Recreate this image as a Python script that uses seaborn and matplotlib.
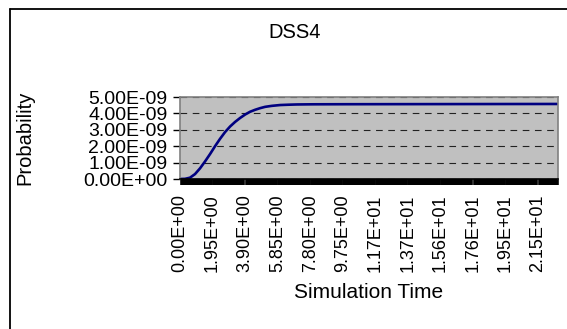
import matplotlib
matplotlib.use("Agg")
import matplotlib.pyplot as plt
from matplotlib.lines import Line2D
from matplotlib.ticker import MultipleLocator
import seaborn as sns
import pandas as pd

# ---- data ----
title = "DSS4"
x_label = "Simulation Time"
y_label = "Probability"

sim_time = [0.0, 0.3, 0.6, 0.9, 1.2, 1.5, 1.8, 2.1, 2.4, 2.7, 3.0, 3.3, 3.6, 3.9,
            4.2, 4.5, 4.8, 5.1, 5.5, 6.0, 6.5, 7.0, 8.0, 10.0, 14.0, 18.0, 22.6]
probability = [0.0, 0.01e-9, 0.08e-9, 0.30e-9, 0.65e-9, 1.07e-9, 1.52e-9, 2.00e-9,
               2.45e-9, 2.86e-9, 3.20e-9, 3.48e-9, 3.72e-9, 3.93e-9, 4.10e-9,
               4.22e-9, 4.32e-9, 4.40e-9, 4.46e-9, 4.51e-9, 4.53e-9, 4.545e-9,
               4.555e-9, 4.56e-9, 4.565e-9, 4.57e-9, 4.575e-9]

x_tick_values = [0.0, 1.95, 3.90, 5.85, 7.80, 9.75, 11.70, 13.65, 15.60, 17.55, 19.50, 21.45]
x_tick_labels = ["0.00E+00", "1.95E+00", "3.90E+00", "5.85E+00", "7.80E+00", "9.75E+00",
                 "1.17E+01", "1.37E+01", "1.56E+01", "1.76E+01", "1.95E+01", "2.15E+01"]
y_tick_values = [0.0, 1e-9, 2e-9, 3e-9, 4e-9, 5e-9]
y_tick_labels = ["0.00E+00", "1.00E-09", "2.00E-09", "3.00E-09", "4.00E-09", "5.00E-09"]

# ---- figure ----
sns.set_theme(style="white")
plt.rcParams['font.family'] = ['Liberation Sans', 'DejaVu Sans']

W, H = 567, 329
fig = plt.figure(figsize=(W / 100, H / 100), dpi=100)
fig.patch.set_facecolor("white")
ax = fig.add_axes([180 / W, 1 - 179 / H, 378 / W, 82 / H])

df = pd.DataFrame({"time": sim_time, "prob": probability})
sns.lineplot(data=df, x="time", y="prob", ax=ax, color="#000080", linewidth=1.9)

ax.set_facecolor("#C0C0C0")
ax.set_xlim(0, 22.65)
ax.set_ylim(0, 5e-9)
ax.set_xlabel("")
ax.set_ylabel("")

ax.set_yticks(y_tick_values)
ax.set_yticklabels(y_tick_labels, fontsize=14, color="black")
ax.set_xticks(x_tick_values)
ax.set_xticklabels(x_tick_labels, rotation=90, fontsize=13, color="black")
ax.tick_params(axis="x", which="major", length=0, pad=11, bottom=True)
ax.xaxis.set_minor_locator(MultipleLocator(0.0975))
ax.tick_params(axis="x", which="minor", length=4, width=2.6, color="black",
               direction="out", bottom=True)
ax.tick_params(axis="y", which="major", length=5, width=1, color="black",
               direction="out", left=True, pad=4)

ax.yaxis.grid(True, linestyle=(0, (6, 5)), color="#222222", linewidth=0.8)
ax.xaxis.grid(False)
for s in ["top", "left", "right"]:
    ax.spines[s].set_color("#808080")
    ax.spines[s].set_linewidth(1.2)
ax.spines["bottom"].set_color("black")
ax.spines["bottom"].set_linewidth(1.2)

# chart-area frame (Excel-like)
fig.add_artist(Line2D([10 / W, 10 / W], [0, 1 - 9.3 / H], transform=fig.transFigure,
                      color="black", linewidth=1.3))
fig.add_artist(Line2D([10 / W, 1], [1 - 9.3 / H, 1 - 9.3 / H], transform=fig.transFigure,
                      color="black", linewidth=1.3))

fig.text(295 / W, 1 - 33 / H, title, ha="center", va="center", fontsize=14.5, color="black")
fig.text(25 / W, 1 - 138 / H, y_label, ha="center", va="center", rotation=90,
         fontsize=14.5, color="black")
fig.text(369 / W, 1 - 293 / H, x_label, ha="center", va="center", fontsize=15, color="black")

fig.savefig("out.png", dpi=100, facecolor="white")
